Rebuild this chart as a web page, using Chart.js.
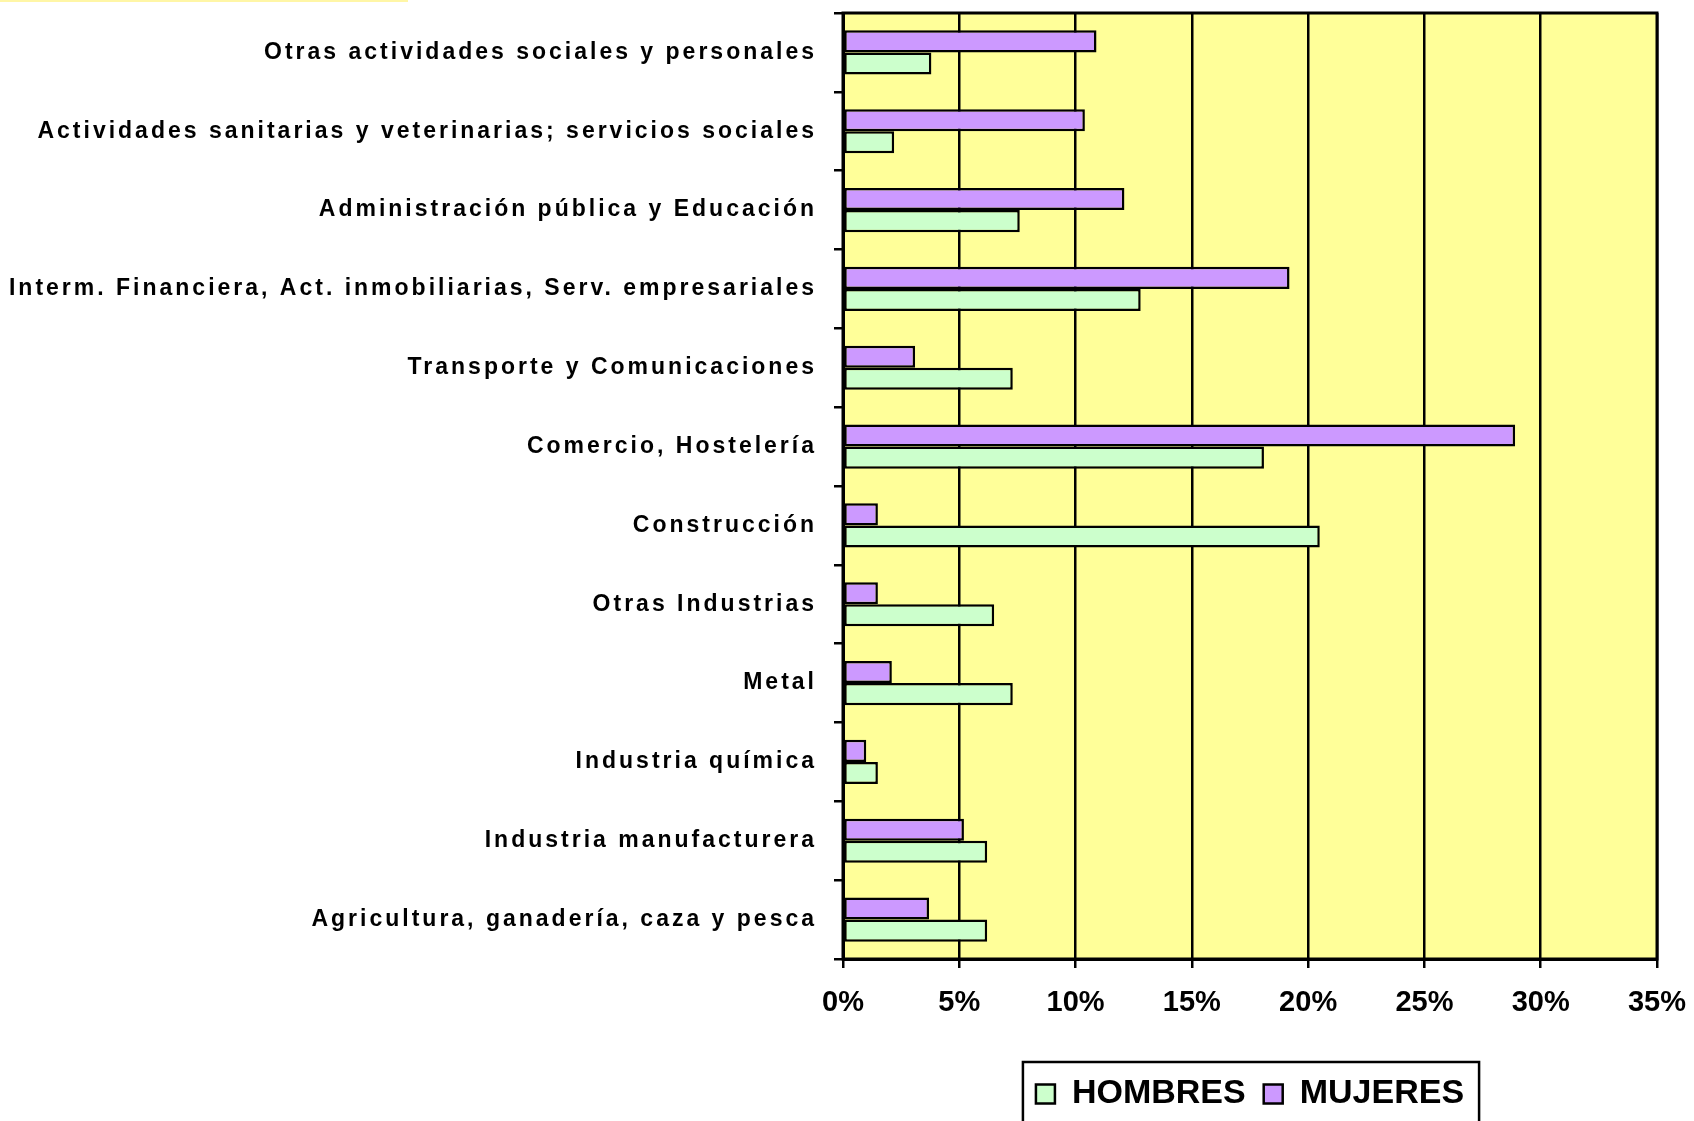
<!DOCTYPE html>
<html>
<head>
<meta charset="utf-8">
<script src="https://cdn.jsdelivr.net/npm/chart.js@4.4.0/dist/chart.umd.min.js"></script>
<style>
  html, body { margin: 0; padding: 0; background: #fff; }
  #wrap { position: relative; width: 1694px; height: 1121px; overflow: hidden; }
  #topline { position: absolute; left: 0; top: 0; width: 408px; height: 2px; background: #fff6a6; }
</style>
</head>
<body>
<div id="wrap">
  <canvas id="sectorChart" width="1694" height="1121"></canvas>
  <div id="topline"></div>
</div>
<script>
// sectors, top to bottom as in the chart
const sectores = [
    'Otras actividades sociales y personales',
    'Actividades sanitarias y veterinarias; servicios sociales',
    'Administración pública y Educación',
    'Interm. Financiera, Act. inmobiliarias, Serv. empresariales',
    'Transporte y Comunicaciones',
    'Comercio, Hostelería',
    'Construcción',
    'Otras Industrias',
    'Metal',
    'Industria química',
    'Industria manufacturera',
    'Agricultura, ganadería, caza y pesca'
];
// share of each sex's employment per sector, in %
const mujeres = [10.9, 10.4, 12.1, 19.2, 3.1, 28.9, 1.5, 1.5, 2.1, 1.0, 5.2, 3.7];
const hombres = [3.8, 2.2, 7.6, 12.8, 7.3, 18.1, 20.5, 6.5, 7.3, 1.5, 6.2, 6.2];
const xMax = 35;
const xStep = 5;

const LABEL_SPACING = '3px';
const labelFamily = "'Liberation Sans Narrow', 'Arial Narrow', 'Liberation Sans', Arial, sans-serif";

const plotFrame = {
    id: 'plotFrame',
    beforeDraw: (chart) => {
        const { ctx, chartArea: a } = chart;
        ctx.letterSpacing = '0px';
        ctx.save();
        ctx.fillStyle = '#FFFF99';
        ctx.fillRect(a.left, a.top, a.right - a.left, a.bottom - a.top);
        ctx.restore();
    },
    // y labels are drawn after the bars (ticks z = 1), spaced out like the original
    afterDatasetsDraw: (chart) => { chart.ctx.letterSpacing = LABEL_SPACING; },
    afterDraw: (chart) => {
        const { ctx, chartArea: a, legend } = chart;
        ctx.letterSpacing = '0px';
        ctx.save();
        ctx.strokeStyle = '#000';
        ctx.lineWidth = 3;
        ctx.strokeRect(a.left, a.top, a.right - a.left, a.bottom - a.top);
        const boxes = legend.legendHitBoxes;
        if (boxes && boxes.length) {
            const first = boxes[0];
            const last = boxes[boxes.length - 1];
            const x0 = first.left - 13;
            const x1 = last.left + last.width + 15;
            const y0 = first.top - 15;
            ctx.lineWidth = 2.5;
            ctx.strokeRect(x0, y0, x1 - x0, chart.height + 10 - y0);
        }
        ctx.restore();
    }
};

const ctx = document.getElementById('sectorChart').getContext('2d');

new Chart(ctx, {
    type: 'bar',
    plugins: [plotFrame],
    data: {
        labels: sectores,
        datasets: [{
            label: 'MUJERES',
            data: mujeres,
            backgroundColor: '#CC99FF',
            borderColor: '#000',
            borderWidth: 2.5,
            borderSkipped: false
        }, {
            label: 'HOMBRES',
            data: hombres,
            backgroundColor: '#CCFFCC',
            borderColor: '#000',
            borderWidth: 2.5,
            borderSkipped: false
        }]
    },
    options: {
        indexAxis: 'y',
        responsive: false,
        animation: false,
        categoryPercentage: 0.56,
        barPercentage: 1.0,
        layout: { padding: { top: 13, right: 37, bottom: 0, left: 0 } },
        scales: {
            x: {
                min: 0,
                max: xMax,
                afterFit: (scale) => {
                    scale.height = 100;
                    scale.paddingLeft = 0;
                    scale.paddingRight = 0;
                },
                ticks: {
                    stepSize: xStep,
                    color: '#000',
                    padding: 18,
                    font: { family: "'Liberation Sans', Arial, sans-serif", size: 29, weight: 'bold' },
                    callback: (v) => v + '%'
                },
                grid: { color: '#000', lineWidth: 2.5, tickLength: 9 },
                border: { color: '#000', width: 3 }
            },
            y: {
                afterFit: (scale) => {
                    scale.width = 843;
                    scale.paddingTop = 0;
                    scale.paddingBottom = 0;
                },
                ticks: {
                    z: 1,
                    autoSkip: false,
                    color: '#000',
                    padding: 17,
                    font: { family: labelFamily, size: 23, weight: 'bold' }
                },
                grid: { drawOnChartArea: false, color: '#000', lineWidth: 2.5, tickLength: 9 },
                border: { color: '#000', width: 3 }
            }
        },
        plugins: {
            tooltip: { enabled: false },
            legend: {
                position: 'bottom',
                fullSize: false,
                reverse: true,
                labels: {
                    color: '#000',
                    boxWidth: 19,
                    boxHeight: 19,
                    padding: 18,
                    font: { family: "'Liberation Sans', Arial, sans-serif", size: 34, weight: 'bold' }
                }
            }
        }
    }
});
</script>
</body>
</html>
